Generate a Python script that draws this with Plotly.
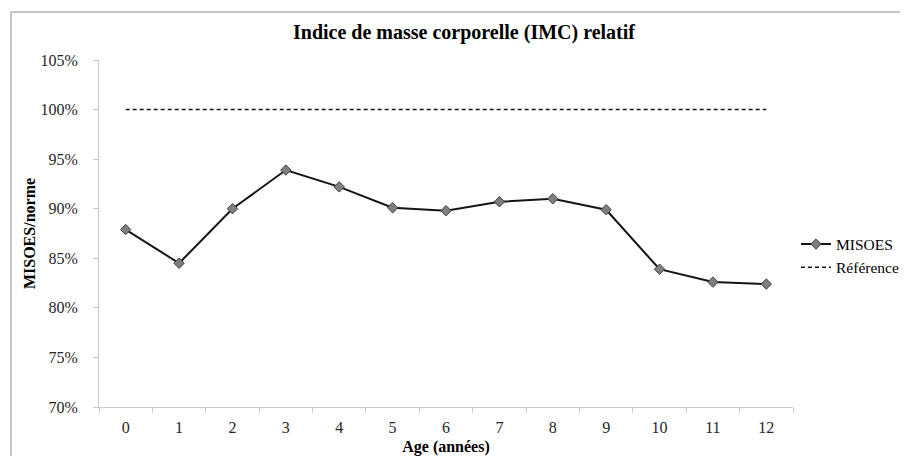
import plotly.graph_objects as go

ages = ["0", "1", "2", "3", "4", "5", "6", "7", "8", "9", "10", "11", "12"]
misoes = [87.9, 84.5, 90.0, 93.9, 92.2, 90.1, 89.8, 90.7, 91.0, 89.9, 83.9, 82.6, 82.4]
reference = [100] * len(ages)

FONT = "Liberation Serif, Times New Roman, serif"

fig = go.Figure()
fig.add_trace(go.Scatter(
    x=ages, y=misoes, name="MISOES", mode="lines+markers",
    line=dict(color="#141414", width=2),
    marker=dict(symbol="diamond", size=8, color="#7f7f7f",
                line=dict(color="#404040", width=1)),
))
fig.add_trace(go.Scatter(
    x=ages, y=reference, name="Référence", mode="lines",
    line=dict(color="#141414", width=1.5, dash="4px,3px"),
))

# page body has an 8px margin: figure drawn 8px in from the window edge
OFF = 8
W, H = 892, 448
L, R, T, B = 99 - OFF, W - (793 - OFF), 60 - OFF, H - (407 - OFF)
pw, ph = W - L - R, H - T - B

def px2x(p):
    return (p - OFF - L) / pw

def px2y(p):
    return (H - B - (p - OFF)) / ph

fig.update_layout(
    width=W, height=H,
    margin=dict(l=L, r=R, t=T, b=B, autoexpand=False),
    paper_bgcolor="white", plot_bgcolor="white",
    font=dict(family=FONT, size=16, color="#262626"),
    title=dict(text="<b>Indice de masse corporelle (IMC) relatif</b>",
               x=(464 - OFF) / W, xref="container", xanchor="center",
               y=1 - (32 - OFF) / H, yanchor="middle",
               font=dict(family=FONT, size=20, color="#000000")),
    showlegend=True,
    legend=dict(x=px2x(796), y=px2y(256), xanchor="left", yanchor="middle",
                font=dict(family=FONT, size=15.5, color="#000000"),
                itemwidth=30, tracegroupgap=2, bgcolor="rgba(0,0,0,0)"),
    xaxis=dict(
        type="category", range=[-0.5, 12.5], automargin=False,
        showgrid=False, zeroline=False,
        showline=True, linecolor="#c8c8c8", linewidth=1,
        ticks="outside", ticklen=5, tickcolor="#c8c8c8", tickson="boundaries",
        ticklabelstandoff=6,
        tickfont=dict(family=FONT, size=16, color="#262626"),
        title=dict(text="<b>Age (années)</b>", standoff=5,
                   font=dict(family=FONT, size=16, color="#000000")),
    ),
    yaxis=dict(
        range=[70, 105], dtick=5, tick0=70, ticksuffix="%", automargin=False,
        showgrid=False, zeroline=False,
        showline=True, linecolor="#c8c8c8", linewidth=1,
        ticks="outside", ticklen=5, tickcolor="#c8c8c8",
        ticklabelstandoff=12,
        tickfont=dict(family=FONT, size=16, color="#262626"),
        title=dict(text="<b>MISOES/norme</b>", standoff=0,
                   font=dict(family=FONT, size=16, color="#000000")),
    ),
)

# outer chart-area border (left and top edges visible in the crop)
bx0, by1 = px2x(11), px2y(12)
fig.add_shape(type="line", xref="paper", yref="paper",
              x0=bx0, x1=bx0, y0=px2y(470), y1=by1,
              line=dict(color="#8c8c8c", width=1))
fig.add_shape(type="line", xref="paper", yref="paper",
              x0=bx0, x1=px2x(915), y0=by1, y1=by1,
              line=dict(color="#8c8c8c", width=1))

fig.write_html("out.html")
